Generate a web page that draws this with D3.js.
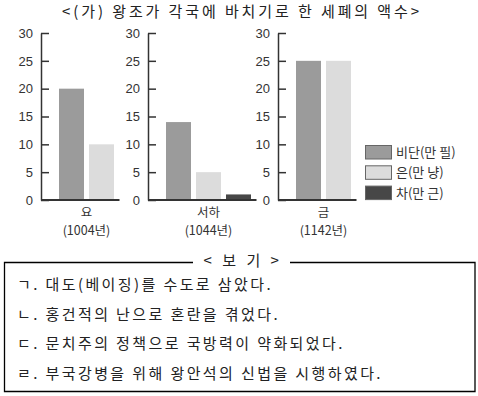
<!DOCTYPE html>
<html>
<head>
<meta charset="utf-8">
<script src="https://cdn.jsdelivr.net/npm/d3@7"></script>
<style>
  body { margin: 0; background: #fff; }
  svg { display: block; }
  .kr { font-family: "Noto Sans CJK KR", sans-serif; }
  .axis text { font-family: "Liberation Sans", Arial, sans-serif; font-size: 13px; fill: #333; }
  .axis path, .axis line { stroke: #333; stroke-width: 1.5; }
</style>
</head>
<body>
<svg id="chart" width="478" height="396"></svg>
<script>
var title = '<(가) 왕조가 각국에 바치기로 한 세폐의 액수>';
var countries = ['요', '서하', '금'];
var years = ['(1004년)', '(1044년)', '(1142년)'];
var series = ['비단(만 필)', '은(만 냥)', '차(만 근)'];
var silk = [20, 14, 25];
var silver = [10, 5, 25];
var tea = [null, 1, null];
var yTicks = [0, 5, 10, 15, 20, 25, 30];
var boxTitle = '< 보 기 >';
var items = [
  'ㄱ. 대도(베이징)를 수도로 삼았다.',
  'ㄴ. 홍건적의 난으로 혼란을 겪었다.',
  'ㄷ. 문치주의 정책으로 국방력이 약화되었다.',
  'ㄹ. 부국강병을 위해 왕안석의 신법을 시행하였다.'
];

var colors = ['#9b9b9b', '#dcdcdc', '#474747'];

var svg = d3.select('#chart');

svg.append('text')
  .attr('class', 'kr')
  .attr('x', 242)
  .attr('y', 17)
  .attr('text-anchor', 'middle')
  .style('font-size', '15px')
  .style('letter-spacing', '2.9px')
  .style('fill', '#222')
  .text(title);

var y = d3.scaleLinear().domain([0, 30]).range([200, 33]);

var panels = [
  { x0: 41, idx: 0 },
  { x0: 148, idx: 1 },
  { x0: 278, idx: 2 }
];

panels.forEach(function(p) {
  var vals = [silk[p.idx], silver[p.idx], tea[p.idx]];
  var keys = series.filter(function(s, i) { return vals[i] != null; });
  var n = keys.length;
  var x = d3.scaleBand()
    .domain(keys)
    .range([p.x0 + 15.5, p.x0 + 15.5 + n * 30])
    .paddingInner(1 / 6)
    .paddingOuter(1 / 12);

  var g = svg.append('g');

  g.append('g')
    .attr('class', 'axis')
    .attr('transform', 'translate(' + p.x0 + ',0)')
    .call(d3.axisLeft(y).tickValues(yTicks).tickSizeInner(-8).tickSizeOuter(0).tickPadding(8));

  g.selectAll('.bar')
    .data(keys)
    .enter().append('rect')
    .attr('class', 'bar')
    .attr('x', function(d) { return x(d); })
    .attr('width', x.bandwidth())
    .attr('y', function(d) { return y(vals[series.indexOf(d)]); })
    .attr('height', function(d) { return y(0) - y(vals[series.indexOf(d)]); })
    .style('fill', function(d) { return colors[series.indexOf(d)]; });

  g.append('line')
    .attr('x1', p.x0)
    .attr('x2', x.range()[1] + 3)
    .attr('y1', y(0))
    .attr('y2', y(0))
    .style('stroke', '#333')
    .style('stroke-width', 2);

  var cx = (x.range()[0] + x.range()[1]) / 2;
  g.append('text')
    .attr('class', 'kr')
    .attr('x', cx)
    .attr('y', 217)
    .attr('text-anchor', 'middle')
    .style('font-size', '12.5px')
    .style('fill', '#333')
    .text(countries[p.idx]);
  g.append('text')
    .attr('class', 'kr')
    .attr('x', cx)
    .attr('y', 235)
    .attr('text-anchor', 'middle')
    .style('font-size', '12.5px')
    .style('fill', '#333')
    .text(years[p.idx]);
});

// legend
var legend = svg.append('g').attr('transform', 'translate(365,145)');
series.forEach(function(s, i) {
  legend.append('rect')
    .attr('x', 0.5)
    .attr('y', i * 20.3 + 0.5)
    .attr('width', 26)
    .attr('height', 13.5)
    .style('fill', colors[i])
    .style('stroke', '#666')
    .style('stroke-width', 1);
  legend.append('text')
    .attr('class', 'kr')
    .attr('x', 31)
    .attr('y', i * 20.3 + 12)
    .style('font-size', '13px')
    .style('fill', '#333')
    .text(s);
});

// 보기 box
var box = svg.append('g');
box.append('path')
  .attr('d', 'M193,262.5H4.5V391.5H475V262.5H290')
  .style('fill', 'none')
  .style('stroke', '#000')
  .style('stroke-width', 1.3);
box.append('text')
  .attr('class', 'kr')
  .attr('x', 243)
  .attr('y', 266)
  .attr('text-anchor', 'middle')
  .style('font-size', '15px')
  .style('letter-spacing', '3.5px')
  .style('fill', '#222')
  .text(boxTitle);
box.selectAll('.item')
  .data(items)
  .enter().append('text')
  .attr('class', 'kr item')
  .attr('x', 17)
  .attr('y', function(d, i) { return 290 + i * 29.5; })
  .style('font-size', '15px')
  .style('letter-spacing', '2.4px')
  .style('fill', '#222')
  .text(function(d) { return d; });
</script>
</body>
</html>
